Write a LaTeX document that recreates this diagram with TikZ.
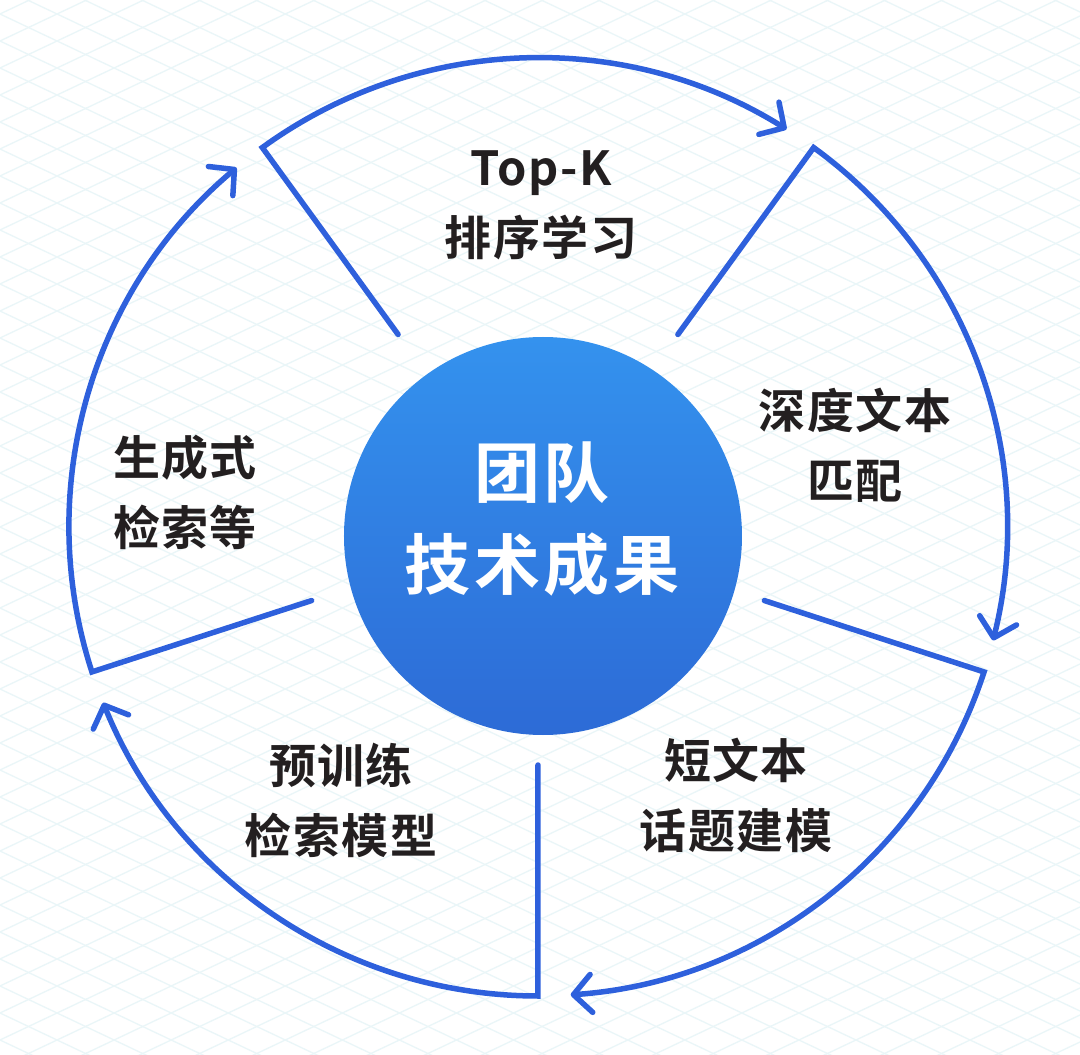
\documentclass[tikz,border=0pt]{standalone}
\usepackage{fontspec}
\usetikzlibrary{arrows.meta}
\newfontfamily\cjklbl{Noto Sans CJK SC Bold}[LetterSpace=3]
\newfontfamily\cjkhub{Noto Sans CJK SC Bold}[LetterSpace=6]
\definecolor{ringblue}{RGB}{46,96,220}
\definecolor{hubtop}{RGB}{52,146,238}
\definecolor{hubbot}{RGB}{45,107,214}
\definecolor{gridcyan}{RGB}{234,246,248}
\definecolor{inkdark}{RGB}{35,31,32}

\begin{document}
\begin{tikzpicture}[x=1pt, y=1pt,
  ring/.style={line width=5.5pt, draw=ringblue, line cap=round,
    -{Straight Barb[length=18pt, width=38pt, round]}},
  hub/.style={circle, minimum size=398pt, inner sep=0pt,
    top color=hubtop, bottom color=hubbot},
  hubtxt/.style={align=center, text=white,
    font=\cjkhub\fontsize{66}{92}\selectfont},
  lbl/.style={align=center, text=inkdark,
    font=\cjklbl\fontsize{47}{70}\selectfont},
  gridln/.style={draw=gridcyan, line width=1.3pt}
]
% background with the faint lattice
\fill[white] (-538,-528) rectangle (542,527);
\begin{scope}
  \clip (-538,-528) rectangle (542,527);
  \foreach \n in {-40,...,40} {
    \draw[gridln] (-538,{\n*27}) -- (542,{\n*27+511});
    \draw[gridln] (-538,{\n*27}) -- (542,{\n*27-511});
  }
\end{scope}
\useasboundingbox (-538,-528) rectangle (542,527);

% centre
\node[hub] (hub) at (5,-9) {};
\node[hubtxt] (hubtxt) at (4,8) {团队\\技术成果};

% ring segments, one per sector
\foreach \a in {126,54,-18,-90,198}
  \draw[ring] (\a:238) -- (\a:469) arc[start angle=\a, end angle=\a-68, radius=469];

% sector labels
\node[lbl] (topk) at (3,322) {Top-K\\排序学习};
\node[lbl] (match) at (317,82) {深度文本\\匹配};
\node[lbl] (topic) at (198,-268) {短文本\\话题建模};
\node[lbl] (pretrain) at (-197,-273) {预训练\\检索模型};
\node[lbl] (gen) at (-353,35) {生成式\\检索等};
\end{tikzpicture}
\end{document}
